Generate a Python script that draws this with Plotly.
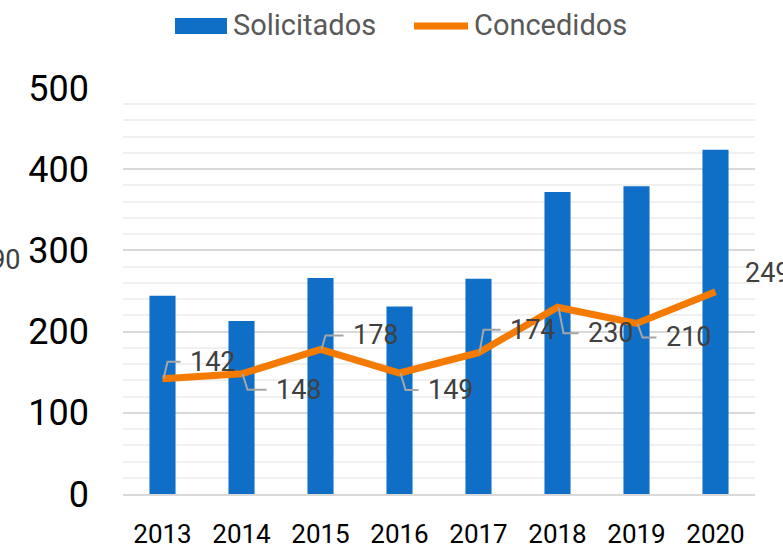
import plotly.graph_objects as go

years = ["2013", "2014", "2015", "2016", "2017", "2018", "2019", "2020"]
solicitados = [244, 213, 266, 231, 265, 372, 379, 424]
concedidos = [142, 148, 178, 149, 174, 230, 210, 249]
series_names = ["Solicitados", "Concedidos"]

BLUE = "#0F6FC6"
ORANGE = "#F47B00"
LABEL = "#404040"
FONT = "Roboto"

W, H = 783, 551
ML, MR, MT, MB = 123, 28, 88, 57
PW, PH = W - ML - MR, H - MT - MB


def px(x):
    return (x - ML) / PW


def py(y):
    return (H - MB - y) / PH


idx = list(range(len(years)))

# label placement style (pixel offsets from point: right, up)
label_off = [(25, 17), (32, -16), (30, 14), (26, -17), (29, 23), (28, -26), (27, -14), (27, 19)]
leader = [True, True, True, True, True, True, True, False]

fig = go.Figure()
fig.add_trace(go.Bar(x=idx, y=solicitados, name=series_names[0], marker_color=BLUE,
                     marker_line_width=0, width=0.33))
fig.add_trace(go.Scatter(x=idx, y=concedidos, name=series_names[1], mode="lines",
                         line=dict(color=ORANGE, width=7)))

annotations = []
shapes = []
for xv, yv, (dx, dy), ld in zip(idx, concedidos, label_off, leader):
    annotations.append(dict(x=xv, y=yv, xref="x", yref="y", text=str(yv), showarrow=False,
                            xanchor="left", yanchor="middle", xshift=dx, yshift=dy,
                            font=dict(family=FONT, size=27, color=LABEL)))
    if ld:
        sx = 5 if dy > 0 else 6
        shapes.append(dict(type="path", xref="x", yref="y", xsizemode="pixel", ysizemode="pixel",
                           xanchor=xv, yanchor=yv,
                           path=f"M1,0 L{sx},{dy} L{dx-7},{dy}",
                           line=dict(color="#A6A6A6", width=2), layer="above"))

# partially visible label at the left edge
annotations.append(dict(x=px(23), y=py(260), xref="paper", yref="paper",
                        text="190", showarrow=False, xanchor="right", yanchor="middle",
                        font=dict(family=FONT, size=27, color=LABEL)))

# legend (drawn manually to match the large legend keys)
shapes.append(dict(type="rect", xref="paper", yref="paper", x0=px(175), x1=px(227),
                   y0=py(34), y1=py(18), fillcolor=BLUE, line=dict(width=0)))
shapes.append(dict(type="line", xref="paper", yref="paper", x0=px(414), x1=px(468),
                   y0=py(26), y1=py(26), line=dict(color=ORANGE, width=7)))
annotations.append(dict(x=px(231), y=py(25), xref="paper", yref="paper", text=series_names[0],
                        showarrow=False, xanchor="left", yanchor="middle",
                        font=dict(family=FONT, size=29, color="#595959")))
annotations.append(dict(x=px(472), y=py(25), xref="paper", yref="paper", text=series_names[1],
                        showarrow=False, xanchor="left", yanchor="middle",
                        font=dict(family=FONT, size=29, color="#595959")))

fig.update_layout(
    width=W, height=H,
    margin=dict(l=ML, r=MR, t=MT, b=MB, autoexpand=False),
    paper_bgcolor="white", plot_bgcolor="white",
    font=dict(family=FONT, color="#000000"),
    showlegend=False,
    bargap=0.67,
    annotations=annotations,
    shapes=shapes,
)
fig.update_xaxes(range=[-0.5, 7.5], tickvals=idx, ticktext=years, showgrid=False,
                 showline=True, linecolor="#D9D9D9", linewidth=2, zeroline=False,
                 ticks="", tickfont=dict(family=FONT, size=26, color="#000000"),
                 ticklabelstandoff=16, automargin=False)
fig.update_yaxes(range=[0, 500], dtick=100, showgrid=True, gridcolor="#D9D9D9", gridwidth=2,
                 minor=dict(dtick=20, showgrid=True, gridcolor="#F0F0F0", gridwidth=2),
                 zeroline=False, showline=False, ticks="",
                 tickfont=dict(family=FONT, size=36, color="#000000"), ticklabelstandoff=33,
                 automargin=False)

fig.write_html("out.html", config={"displayModeBar": False},
               post_script="document.body.style.margin='0px';document.body.style.overflow='hidden';")
